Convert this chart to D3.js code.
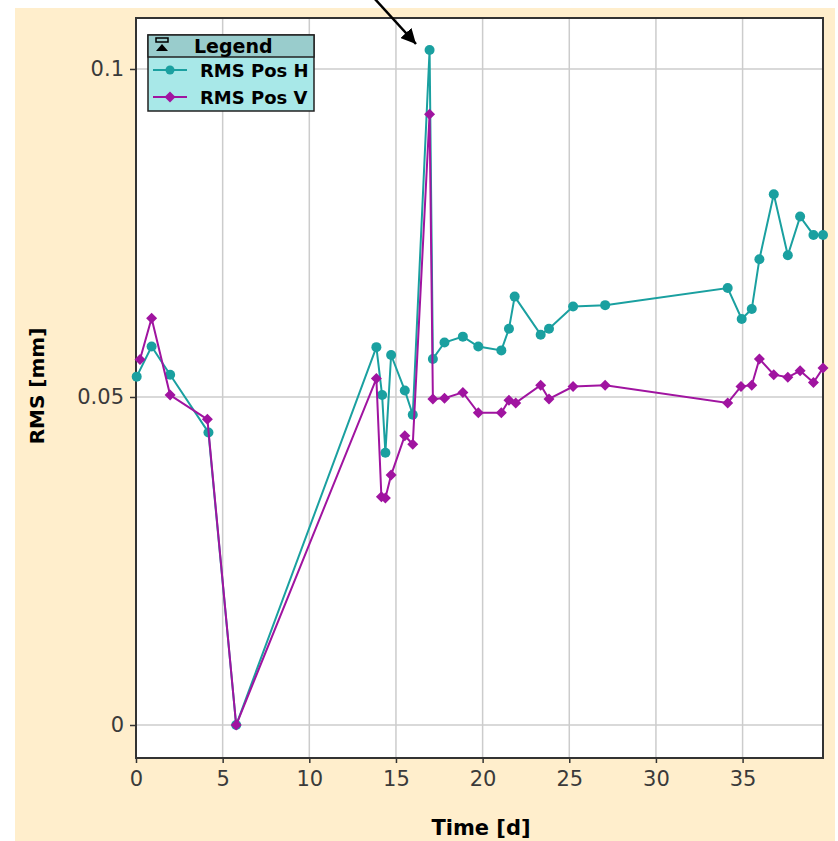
<!DOCTYPE html>
<html>
<head>
<meta charset="utf-8">
<script src="https://cdn.jsdelivr.net/npm/d3@7"></script>
<style>
  body { margin: 0; background: #fff; }
  text { font-family: "DejaVu Sans", sans-serif; }
</style>
</head>
<body>
<script>
const timeH = [0.04, 0.9, 1.97, 4.18, 5.78, 13.87, 14.2, 14.39, 14.72, 15.51, 15.97, 16.94, 17.13, 17.8, 18.86, 19.75, 21.08, 21.52, 21.85, 23.35, 23.83, 25.22, 27.07, 34.14, 34.95, 35.53, 35.97, 36.8, 37.61, 38.32, 39.09, 39.64];
const rmsH = [0.0531, 0.0577, 0.0534, 0.0446, 0.0, 0.0576, 0.0503, 0.0415, 0.0564, 0.051, 0.0473, 0.1029, 0.0558, 0.0583, 0.0592, 0.0577, 0.0571, 0.0604, 0.0653, 0.0595, 0.0604, 0.0638, 0.064, 0.0666, 0.0619, 0.0634, 0.071, 0.0809, 0.0716, 0.0775, 0.0747, 0.0747];

const timeV = [0.23, 0.9, 1.97, 4.12, 5.78, 13.87, 14.16, 14.39, 14.72, 15.51, 15.97, 16.94, 17.13, 17.8, 18.86, 19.75, 21.08, 21.52, 21.91, 23.35, 23.83, 25.22, 27.07, 34.14, 34.91, 35.53, 35.97, 36.8, 37.61, 38.32, 39.09, 39.64];
const rmsV = [0.0557, 0.062, 0.0503, 0.0466, 0.0, 0.0528, 0.0348, 0.0346, 0.0381, 0.0441, 0.0428, 0.0931, 0.0497, 0.0498, 0.0507, 0.0476, 0.0476, 0.0495, 0.0491, 0.0518, 0.0497, 0.0516, 0.0518, 0.0491, 0.0516, 0.0518, 0.0558, 0.0534, 0.053, 0.054, 0.0522, 0.0544];

const xTicks = [0, 5, 10, 15, 20, 25, 30, 35];
const yTicks = [0, 0.05, 0.1];
const seriesNames = ["RMS Pos H", "RMS Pos V"];

const width = 838, height = 841;
const plotL = 136, plotR = 823, plotT = 18, plotB = 758;
const colH = "#1aa0a0", colV = "#a014a0";

const svg = d3.select("body").append("svg")
  .attr("width", width).attr("height", height);

svg.append("rect").attr("x", 15).attr("y", 8)
  .attr("width", 820).attr("height", height - 8).attr("fill", "#ffeecc");

const x = d3.scaleLinear().domain([0, 39.64]).range([plotL, plotR]);
const y = d3.scaleLinear().domain([-0.00503, 0.10777]).range([plotB, plotT]);

svg.append("rect").attr("x", plotL).attr("y", plotT)
  .attr("width", plotR - plotL).attr("height", plotB - plotT).attr("fill", "#fff");

// grid
svg.append("g").selectAll("line").data(xTicks.slice(1)).join("line")
  .attr("x1", d => x(d)).attr("x2", d => x(d))
  .attr("y1", plotT).attr("y2", plotB)
  .attr("stroke", "#cccccc").attr("stroke-width", 1.5);
svg.append("g").selectAll("line").data(yTicks).join("line")
  .attr("x1", plotL).attr("x2", plotR)
  .attr("y1", d => y(d)).attr("y2", d => y(d))
  .attr("stroke", "#cccccc").attr("stroke-width", 1.5);

// axes
const xAxis = d3.axisBottom(x).tickValues(xTicks).tickSize(5).tickPadding(8).tickFormat(d3.format("d"));
const yAxis = d3.axisLeft(y).tickValues(yTicks).tickSize(6).tickPadding(6).tickFormat(d => d === 0 ? "0" : String(d));

const gx = svg.append("g").attr("transform", `translate(0,${plotB})`).call(xAxis);
const gy = svg.append("g").attr("transform", `translate(${plotL},0)`).call(yAxis);
[gx, gy].forEach(g => {
  g.select(".domain").remove();
  g.selectAll(".tick line").attr("stroke", "#333").attr("stroke-width", 1.5);
  g.selectAll(".tick text").attr("fill", "#3a3a3a").attr("font-size", 21)
    .attr("font-family", "DejaVu Sans");
});

// frame
svg.append("rect").attr("x", plotL).attr("y", plotT)
  .attr("width", plotR - plotL).attr("height", plotB - plotT)
  .attr("fill", "none").attr("stroke", "#333").attr("stroke-width", 2);

// axis titles
svg.append("text").attr("x", 481).attr("y", 835).attr("text-anchor", "middle")
  .attr("font-weight", "bold").attr("font-size", 21).text("Time [d]");
svg.append("text").attr("transform", "translate(44,386) rotate(-90)")
  .attr("text-anchor", "middle").attr("font-weight", "bold").attr("font-size", 20)
  .text("RMS [mm]");

// series
const line = d3.line();
const ptsH = timeH.map((t, i) => [x(t), y(rmsH[i])]);
const ptsV = timeV.map((t, i) => [x(t), y(rmsV[i])]);
const diamond = "M0,-5.5L5.5,0L0,5.5L-5.5,0Z";

svg.append("path").attr("d", line(ptsH)).attr("fill", "none")
  .attr("stroke", colH).attr("stroke-width", 2);
svg.append("g").selectAll("circle").data(ptsH).join("circle")
  .attr("cx", d => d[0]).attr("cy", d => d[1]).attr("r", 5).attr("fill", colH);

svg.append("path").attr("d", line(ptsV)).attr("fill", "none")
  .attr("stroke", colV).attr("stroke-width", 2);
svg.append("g").selectAll("path").data(ptsV).join("path")
  .attr("transform", d => `translate(${d[0]},${d[1]})`)
  .attr("d", diamond).attr("fill", colV);

// legend
const lg = svg.append("g");
lg.append("rect").attr("x", 148).attr("y", 35).attr("width", 166).attr("height", 76)
  .attr("fill", "#a8e8e8").attr("stroke", "#222").attr("stroke-width", 1.5);
lg.append("rect").attr("x", 148).attr("y", 35).attr("width", 166).attr("height", 22)
  .attr("fill", "#99cccc").attr("stroke", "#222").attr("stroke-width", 1.5);
lg.append("rect").attr("x", 156).attr("y", 38).attr("width", 12).attr("height", 4)
  .attr("fill", "none").attr("stroke", "#000").attr("stroke-width", 1.5);
lg.append("path").attr("d", "M156,51 L168,51 L162,44 Z").attr("fill", "#000");
lg.append("text").attr("x", 194).attr("y", 53).attr("font-weight", "bold")
  .attr("font-size", 19).text("Legend");

const rows = [
  { name: seriesNames[0], color: colH, y: 70, mark: "circle" },
  { name: seriesNames[1], color: colV, y: 97, mark: "diamond" }
];
rows.forEach(r => {
  lg.append("line").attr("x1", 153).attr("x2", 187).attr("y1", r.y).attr("y2", r.y)
    .attr("stroke", r.color).attr("stroke-width", 2);
  if (r.mark === "circle") {
    lg.append("circle").attr("cx", 170).attr("cy", r.y).attr("r", 4.5).attr("fill", r.color);
  } else {
    lg.append("path").attr("transform", `translate(170,${r.y})`).attr("d", diamond).attr("fill", r.color);
  }
  lg.append("text").attr("x", 200).attr("y", r.y + 7).attr("font-weight", "bold")
    .attr("font-size", 18).text(r.name);
});

// annotation arrow
svg.append("defs").append("marker").attr("id", "ah")
  .attr("viewBox", "0 0 10 10").attr("refX", 10).attr("refY", 5)
  .attr("markerWidth", 6).attr("markerHeight", 6).attr("orient", "auto")
  .append("path").attr("d", "M0,0 L10,5 L0,10 Z").attr("fill", "#000");
svg.append("line").attr("x1", 374).attr("y1", -2).attr("x2", 416).attr("y2", 44)
  .attr("stroke", "#000").attr("stroke-width", 2.5).attr("marker-end", "url(#ah)");
</script>
</body>
</html>
